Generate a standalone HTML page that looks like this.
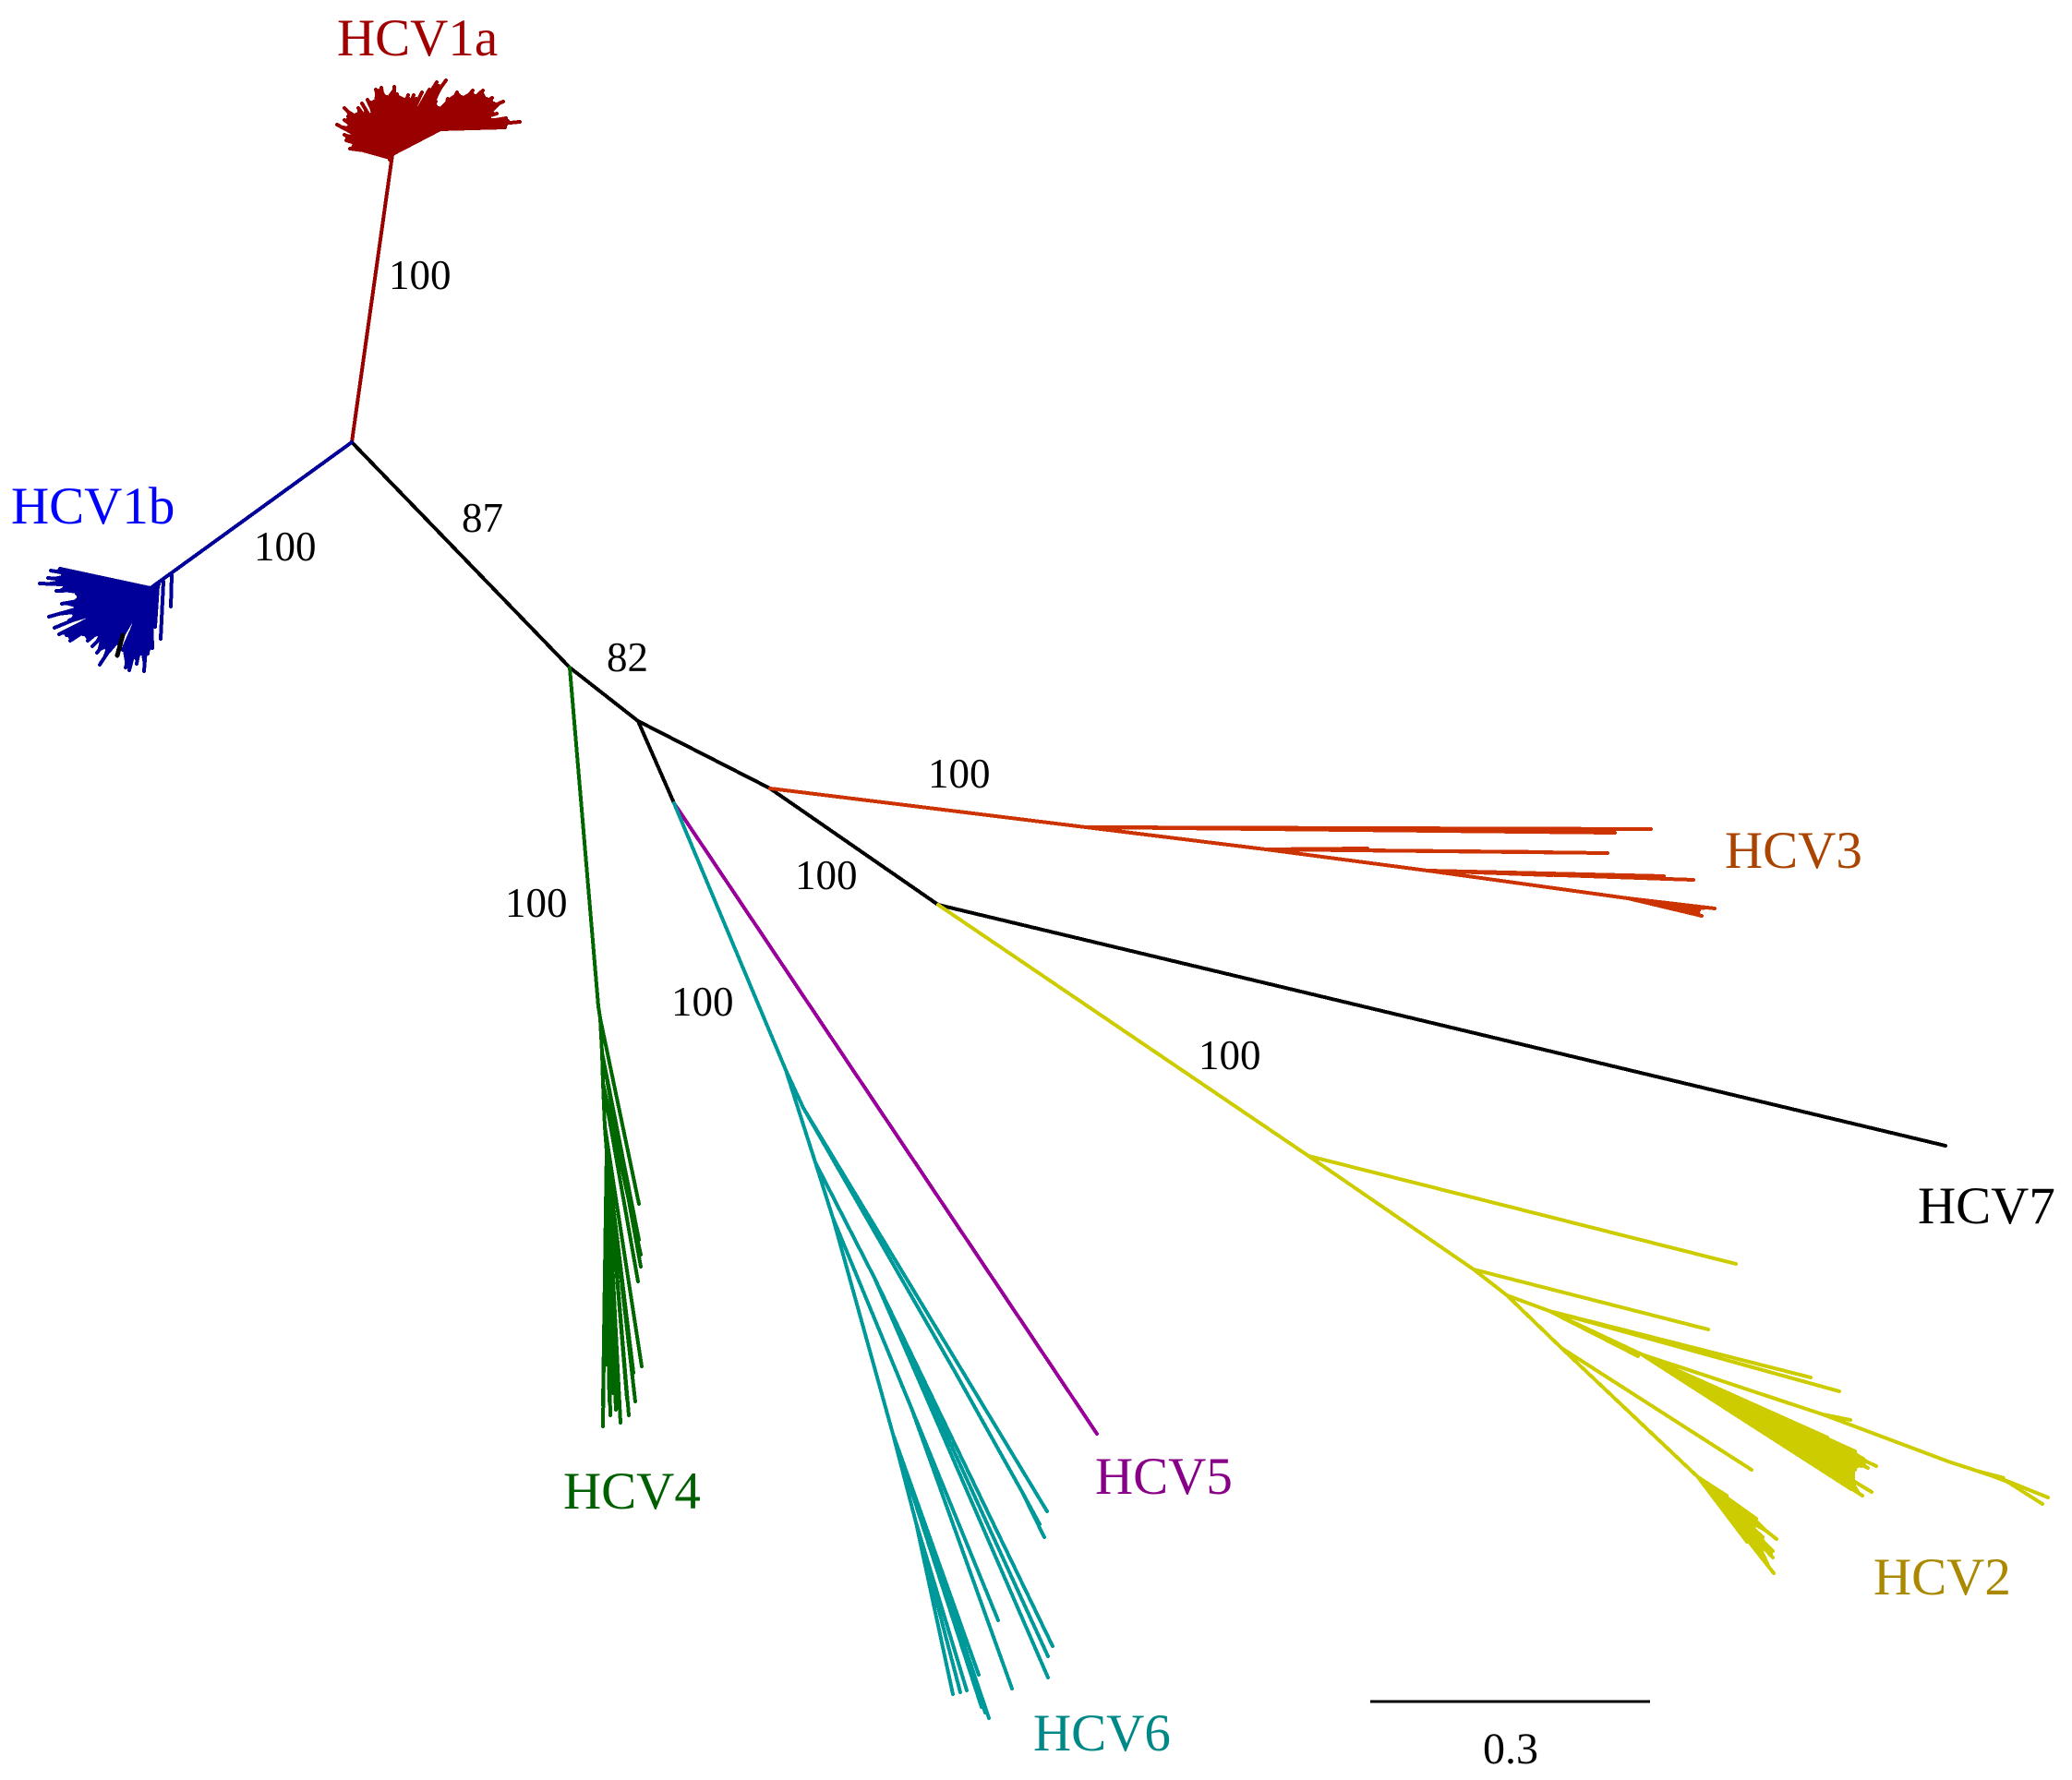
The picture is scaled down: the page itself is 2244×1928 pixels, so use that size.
<!DOCTYPE html>
<html lang="en">
<head>
<meta charset="utf-8">
<title>HCV unrooted phylogenetic tree</title>
<style>
html,body{margin:0;padding:0;background:#fff;}
svg{display:block;}
text{font-family:"Liberation Serif",serif;}
.clade{font-size:57px;}
.boot{font-size:45px;fill:#000;}
</style>
</head>
<body>
<svg id="tree" xmlns="http://www.w3.org/2000/svg" width="2244" height="1928" viewBox="0 0 2244 1928" shape-rendering="crispEdges">
<rect width="2244" height="1928" fill="#fff"/>
<g id="branches"></g>
<line id="scaleLine" stroke="#000" stroke-width="3"/>
<text class="boot" style="font-size:48px" x="1606" y="1910">0.3</text>
<text class="clade" x="365" y="60" fill="#a00000">HCV1a</text>
<text class="clade" x="12" y="567" fill="#0000ff">HCV1b</text>
<text class="clade" x="1868" y="940" fill="#aa4400">HCV3</text>
<text class="clade" x="2077" y="1325" fill="#000">HCV7</text>
<text class="clade" x="1186" y="1618" fill="#880088">HCV5</text>
<text class="clade" x="610" y="1634" fill="#005f00">HCV4</text>
<text class="clade" x="1119" y="1896" fill="#008888">HCV6</text>
<text class="clade" x="2029" y="1727" fill="#aa8800">HCV2</text>
<text class="boot" x="421" y="313">100</text>
<text class="boot" x="275" y="607">100</text>
<text class="boot" x="500" y="576">87</text>
<text class="boot" x="657" y="727">82</text>
<text class="boot" x="1005" y="853">100</text>
<text class="boot" x="861" y="963">100</text>
<text class="boot" x="547" y="993">100</text>
<text class="boot" x="727" y="1100">100</text>
<text class="boot" x="1298" y="1158">100</text>
</svg>
<script>
// Tree coordinates in milli-units of branch length, measured from the central root node.
const nodeRoot=[0,0];
const nodeA=[236,244];
const nodeB=[310,302];
const nodeC=[453,375];
const nodeD=[635,501];
const nodeE=[349,391];
const tip7=[1726,762];
const tip5=[807,1074];
const scaleBarStart=[1103,1364];
const scaleBarLength=303;

// HCV1a
const node1a=[44,-312];
const node1aR=[96,-339];
const tips1aLeft=[[41,-306],[-2,-318],[2,-325],[-6,-327],[-8,-333],[1,-334],[-16,-344],[-3,-342],[-8,-349],[-4,-353],[-8,-362],[5,-355],[7,-362],[14,-356],[11,-367],[21,-355],[17,-371],[24,-369],[26,-382],[32,-384],[38,-374],[46,-385],[49,-377],[59,-372],[61,-376],[65,-371],[67,-376],[70,-372],[76,-379],[67,-354],[72,-362],[84,-382],[92,-390],[94,-386],[102,-392],[91,-369],[94,-362],[96,-339]];
const tips1aRight=[[94,-362],[104,-372],[114,-379],[116,-376],[102,-359],[119,-374],[131,-381],[134,-375],[142,-381],[146,-372],[152,-373],[154,-367],[164,-369],[152,-357],[157,-356],[149,-351],[167,-351],[169,-348],[182,-347],[167,-344],[166,-341]];

// HCV1b
const node1b=[-218,158];
const tips1b=[[-316,137],[-326,139],[-313,144],[-329,147],[-313,149],[-338,153],[-311,156],[-320,161],[-298,164],[-298,171],[-314,175],[-299,179],[-328,189],[-301,186],[-306,193],[-322,201],[-286,190],[-317,208],[-309,209],[-305,215],[-291,208],[-286,215],[-274,209],[-281,221],[-273,214],[-276,228],[-266,223],[-273,241],[-253,218],[-236,191],[-248,225],[-245,244],[-241,247],[-236,233],[-233,240],[-228,229],[-225,248],[-221,229],[-216,223],[-214,194],[-209,154]];
const stem1bSideParents=[[-204,151],[-195,144],[-210,155]];
const stem1bSideTips=[[-207,213],[-196,178],[-213,200]];
const black1bFrom=[-248,209];
const black1bTo=[-254,231];

// HCV3
const n3a=[795,417];
const n3b=[990,441];
const n3c=[1165,464];
const n3d=[1382,494];
const tips3a=[[1407,419],[1368,423],[1320,421],[1210,421]];
const tips3b=[[1360,445],[1300,444],[1100,440]];
const tips3c=[[1453,474],[1421,470],[1400,470],[1300,469]];
const tips3d=[[1476,505],[1459,507],[1462,513]];

// HCV4
const node4=[267,611];
const axis4=[[269,624],[271,661],[272,694],[274,741],[276,768],[275,834]];
const tips4a0=[[311,825]];
const tips4a1=[[311,864],[313,893],[312,880]];
const tips4a2=[[310,909],[313,880]];
const tips4a3=[[314,1001]];
const tips4a4=[[307,1039],[300,1054],[298,1036],[305,1008],[291,1062],[289,1046],[286,1048],[274,1000],[276,960],[281,1010],[283,1030]];
const tips4a5=[[272,1066],[272,1043],[280,1054],[279,1039]];

// HCV6
const node6=[470,680];
const n6r=[489,721];
const n6p1=[655,1010];
const n6p1b=[726,1137];
const n6p2=[502,780];
const n6p3=[566,905];
const n6p5=[521,840];
const n6p6=[606,1046];
const n6p7=[586,1074];
const n6p8=[611,1170];
const tip6upper=[753,1158];
const tips6a=[[750,1186],[742,1168],[745,1172]];
const tips6b=[[759,1304],[754,1315],[754,1338]];
const tips6c=[[700,1276],[715,1350]];
const tips6d=[[651,1356],[659,1354],[666,1352]];
const tips6e=[[679,1335],[676,1345],[690,1382],[686,1376],[682,1370]];

// HCV2
const node2=[1036,773];
const n2a=[1215,896];
const n2b=[1251,924];
const n2c=[1310,981];
const n2d=[1458,1121];
const n2e=[1297,941];
const n2f=[1397,988];
const n2fLower=[1393,990];
const n2g=[1593,1053];
const n2h=[1729,1104];
const n2i=[1790,1124];
const tip2first=[1499,890];
const tip2second=[1469,961];
const tip2third=[1516,1113];
const tips2e=[[1580,1013],[1611,1028]];
const tips2d=[[1489,1141],[1521,1166],[1543,1188],[1519,1174],[1528,1186],[1539,1201],[1539,1208],[1528,1199],[1540,1225],[1511,1191],[1480,1148]];
const tips2f=[[1598,1078],[1628,1093],[1651,1109],[1637,1101],[1642,1111],[1635,1109],[1628,1113],[1628,1126],[1646,1137],[1628,1128],[1636,1141],[1624,1134]];
const tips2iWedge=[[1790,1120],[1793,1128]];
const tips2i=[[1837,1143],[1831,1150]];
const tip2g=[1623,1059];

const pxPerMilli=1;
const rootPxX=381;
const rootPxY=479;
const sx=function(v){return rootPxX+v*pxPerMilli;};
const sy=function(v){return rootPxY+v*pxPerMilli;};

const SVGNS='http://www.w3.org/2000/svg';
const layer=document.getElementById('branches');
const BW=4;

function edge(name,color,from,to,w){
  const el=document.createElementNS(SVGNS,'line');
  
  
  el.setAttribute('x1',sx(from[0]));
  el.setAttribute('y1',sy(from[1]));
  el.setAttribute('x2',sx(to[0]));
  el.setAttribute('y2',sy(to[1]));
  el.setAttribute('stroke',color);
  el.setAttribute('stroke-width',w||BW);
  el.setAttribute('stroke-linecap','round');
  layer.appendChild(el);
}
function spray(name,color,parent,tips){
  tips.forEach(function(t){edge(name,color,parent,t);});
}
function wedge(name,color,parent,tips){
  const el=document.createElementNS(SVGNS,'polygon');
  
  
  const pts=[parent].concat(tips).map(function(p){return sx(p[0])+','+sy(p[1]);}).join(' ');
  el.setAttribute('points',pts);
  el.setAttribute('fill',color);
  layer.appendChild(el);
}

const C1a='#990000',C1b='#000099',C3='#cc3300',C4='#006600',C5='#990099',C6='#009999',C2='#cccc00',CK='#000000';

// Backbone
edge('backbone-root-a',CK,nodeRoot,nodeA);
edge('backbone-a-b',CK,nodeA,nodeB);
edge('backbone-b-c',CK,nodeB,nodeC);
edge('backbone-c-d',CK,nodeC,nodeD);
edge('backbone-b-e',CK,nodeB,nodeE);
edge('branch-hcv7',CK,nodeD,tip7);

// HCV1a
edge('stem-hcv1a',C1a,nodeRoot,node1a);
wedge('fan-hcv1a-left',C1a,node1a,tips1aLeft);
wedge('fan-hcv1a-right',C1a,node1aR,tips1aRight);
spray('branch-hcv1a',C1a,node1a,tips1aLeft);
spray('branch-hcv1a',C1a,node1aR,tips1aRight);

// HCV1b
edge('stem-hcv1b',C1b,nodeRoot,node1b);
wedge('fan-hcv1b',C1b,node1b,tips1b);
spray('branch-hcv1b',C1b,node1b,tips1b);
stem1bSideParents.forEach(function(p,i){edge('branch-hcv1b',C1b,p,stem1bSideTips[i]);});
edge('branch-hcv1b-black',CK,black1bFrom,black1bTo,5);

// HCV3
edge('stem-hcv3',C3,nodeC,n3a);
edge('stem-hcv3',C3,n3a,n3b);
edge('stem-hcv3',C3,n3b,n3c);
edge('stem-hcv3',C3,n3c,n3d);
spray('branch-hcv3',C3,n3a,tips3a);
spray('branch-hcv3',C3,n3b,tips3b);
spray('branch-hcv3',C3,n3c,tips3c);
wedge('fan-hcv3',C3,n3d,tips3d);
spray('branch-hcv3',C3,n3d,tips3d);

// HCV4
edge('stem-hcv4',C4,nodeA,node4);
edge('stem-hcv4',C4,node4,axis4[0]);
edge('stem-hcv4',C4,axis4[0],axis4[1]);
edge('stem-hcv4',C4,axis4[1],axis4[2]);
edge('stem-hcv4',C4,axis4[2],axis4[3]);
edge('stem-hcv4',C4,axis4[3],axis4[4]);
edge('stem-hcv4',C4,axis4[4],axis4[5]);
spray('branch-hcv4',C4,axis4[0],tips4a0);
spray('branch-hcv4',C4,axis4[1],tips4a1);
spray('branch-hcv4',C4,axis4[2],tips4a2);
spray('branch-hcv4',C4,axis4[3],tips4a3);
spray('branch-hcv4',C4,axis4[4],tips4a4);
spray('branch-hcv4',C4,axis4[5],tips4a5);

// HCV5
edge('branch-hcv5',C5,nodeE,tip5,4);

// HCV6
edge('stem-hcv6',C6,nodeE,node6);
edge('stem-hcv6',C6,node6,n6r);
edge('stem-hcv6',C6,node6,n6p2);
edge('stem-hcv6',C6,n6p2,n6p5);
edge('branch-hcv6',C6,n6r,tip6upper);
edge('stem-hcv6',C6,n6r,n6p1);
edge('stem-hcv6',C6,n6p1,n6p1b);
spray('branch-hcv6',C6,n6p1b,tips6a);
edge('stem-hcv6',C6,n6p2,n6p3);
spray('branch-hcv6',C6,n6p3,tips6b);
edge('stem-hcv6',C6,n6p5,n6p6);
spray('branch-hcv6',C6,n6p6,tips6c);
edge('stem-hcv6',C6,n6p5,n6p7);
edge('stem-hcv6',C6,n6p7,n6p8);
spray('branch-hcv6',C6,n6p8,tips6d);
spray('branch-hcv6',C6,n6p7,tips6e);

// HCV2
edge('stem-hcv2',C2,nodeD,node2);
edge('branch-hcv2',C2,node2,tip2first);
edge('stem-hcv2',C2,node2,n2a);
edge('branch-hcv2',C2,n2a,tip2second);
edge('stem-hcv2',C2,n2a,n2b);
edge('stem-hcv2',C2,n2b,n2c);
edge('branch-hcv2',C2,n2c,tip2third);
edge('stem-hcv2',C2,n2c,n2d);
wedge('fan-hcv2-lower',C2,n2d,tips2d);
spray('branch-hcv2',C2,n2d,tips2d);
edge('stem-hcv2',C2,n2b,n2e);
spray('branch-hcv2',C2,n2e,tips2e);
edge('stem-hcv2',C2,n2e,n2f);
edge('stem-hcv2',C2,n2e,n2fLower);
wedge('fan-hcv2-main',C2,n2f,tips2f);
spray('branch-hcv2',C2,n2f,tips2f);
edge('stem-hcv2',C2,n2f,n2g);
edge('branch-hcv2',C2,n2g,tip2g);
edge('stem-hcv2',C2,n2g,n2h);
edge('stem-hcv2',C2,n2h,n2i);
wedge('fan-hcv2-outer',C2,n2h,tips2iWedge);
spray('branch-hcv2',C2,n2i,tips2i);

// Scale bar
const sb=document.getElementById('scaleLine');
sb.setAttribute('x1',sx(scaleBarStart[0]));
sb.setAttribute('y1',sy(scaleBarStart[1]));
sb.setAttribute('x2',sx(scaleBarStart[0]+scaleBarLength));
sb.setAttribute('y2',sy(scaleBarStart[1]));
</script>
</body>
</html>
